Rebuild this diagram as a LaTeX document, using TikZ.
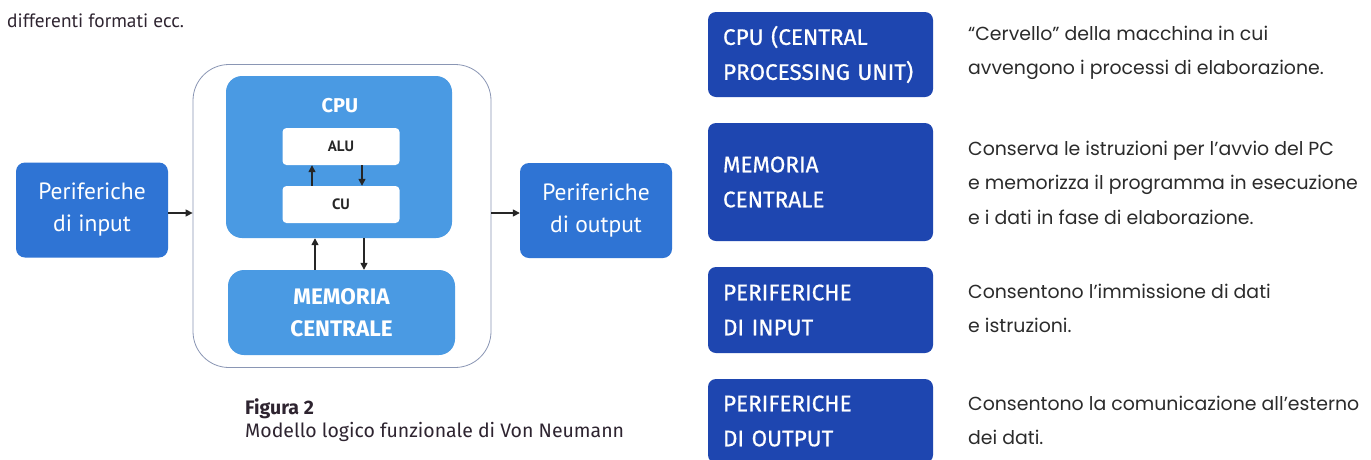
\documentclass[tikz,border=0pt]{standalone}
\usepackage{fontspec}
\setmainfont{Fira Sans}
\newfontfamily\boxfont{PT Sans}
\newfontfamily\descfont{Poppins}
\newfontfamily\capfont{Fira Sans}
\newfontfamily\labfont{Fira Sans}[FakeBold=0.7]
\usetikzlibrary{arrows.meta}
\definecolor{periph}{HTML}{2F74D4}
\definecolor{cpublue}{HTML}{4A9AE3}
\definecolor{darkbox}{HTML}{1E46B0}
\definecolor{outerline}{HTML}{8A96B4}
\definecolor{txt}{HTML}{2B2B2B}
\definecolor{captxt}{HTML}{2E2430}
\tikzset{
  periphbox/.style={fill=periph, rounded corners=9, text=white, align=center,
    minimum width=152, minimum height=95, inner sep=0,
    font=\boxfont\fontsize{23.5}{32}\selectfont},
  cpubox/.style={fill=cpublue, rounded corners=16, inner sep=0},
  whitebox/.style={fill=white, rounded corners=4, minimum width=117, inner sep=0,
    text=black!85, font=\boxfont\bfseries\fontsize{15}{18}\selectfont},
  outerbox/.style={draw=outerline, line width=0.8, rounded corners=36, fill=white},
  darkbox/.style={fill=darkbox, rounded corners=8, text=white, align=left,
    minimum width=225, text width=195, inner xsep=15, inner ysep=0,
    font=\labfont\fontsize{22.5}{35}\selectfont},
  desc/.style={anchor=west, align=left, inner sep=0, text=txt,
    font=\descfont\fontsize{18.9}{34.5}\selectfont},
  arr/.style={line width=1.4, draw=black!85, -{Triangle[length=7,width=7]}},
}
\begin{document}
\begin{tikzpicture}[x=1pt,y=-1pt]
\useasboundingbox (0,0) rectangle (1371,459);
\clip (0,0) rectangle (1371,459);
\fill[white] (0,0) rectangle (1371,459);
% top text
\node[anchor=west, inner sep=0, text=captxt, font=\boxfont\fontsize{19.3}{24}\selectfont] (toptext) at (7,21) {differenti formati ecc.};
% left diagram
\node[periphbox] (in) at (92,210) {Periferiche\\di input};
\node[outerbox, minimum width=298, minimum height=303, inner sep=0] (sys) at (342,216) {};
\node[cpubox, minimum width=226, minimum height=162] (cpu) at (339,157) {};
\node[text=white, font=\capfont\bfseries\fontsize{20}{24}\selectfont, inner sep=0] (cpulbl) at (340,106) {CPU};
\node[whitebox, minimum height=37] (alu) at (341,146.5) {ALU};
\node[whitebox, minimum height=37] (cu) at (341,204.5) {CU};
\node[cpubox, minimum width=227, minimum height=85, text=white, align=center,
  font=\capfont\bfseries\fontsize{22.5}{32}\selectfont] (mem) at (341.5,312.5) {MEMORIA\\CENTRALE};
\node[periphbox] (out) at (596,210.5) {Periferiche\\di output};
% arrows
\coordinate (a1) at (0,213);
\draw[arr] (in.east |- a1) -- (sys.west |- a1);
\draw[arr] (sys.east |- a1) -- (out.west |- a1);
\coordinate (xu1) at (312,0);
\coordinate (xd1) at (362,0);
\draw[arr] (cu.north -| xu1) -- (alu.south -| xu1);
\draw[arr] (alu.south -| xd1) -- (cu.north -| xd1);
\coordinate (xu2) at (315,0);
\coordinate (xd2) at (364,0);
\draw[arr] (mem.north -| xu2) -- (cpu.south -| xu2);
\draw[arr] (cpu.south -| xd2) -- (mem.north -| xd2);
% caption
\node[anchor=west, inner sep=0, text=captxt, font=\capfont\bfseries\fontsize{19.5}{22}\selectfont] (figlbl) at (245,409) {Figura 2};
\node[anchor=west, inner sep=0, text=captxt, font=\capfont\fontsize{19.5}{22}\selectfont] (figcap) at (245,432) {Modello logico funzionale di Von Neumann};
% right column
\node[darkbox, minimum height=85] (rcpu) at (820.5,54.5) {CPU (CENTRAL\\PROCESSING UNIT)};
\node[desc] (dcpu) at (968,53) {“Cervello” della macchina in cui\\avvengono i processi di elaborazione.};
\node[darkbox, minimum height=118] (rmem) at (820.5,182) {MEMORIA\\CENTRALE};
\node[desc] (dmem) at (968,182.5) {Conserva le istruzioni per l’avvio del PC\\e memorizza il programma in esecuzione\\e i dati in fase di elaborazione.};
\node[darkbox, minimum height=86] (rin) at (820.5,310) {PERIFERICHE\\DI INPUT};
\node[desc] (din) at (968,308.5) {Consentono l’immissione di dati\\e istruzioni.};
\node[darkbox, minimum height=84] (rout) at (820.5,421) {PERIFERICHE\\DI OUTPUT};
\node[desc] (dout) at (968,420.5) {Consentono la comunicazione all’esterno\\dei dati.};
\end{tikzpicture}
\end{document}
